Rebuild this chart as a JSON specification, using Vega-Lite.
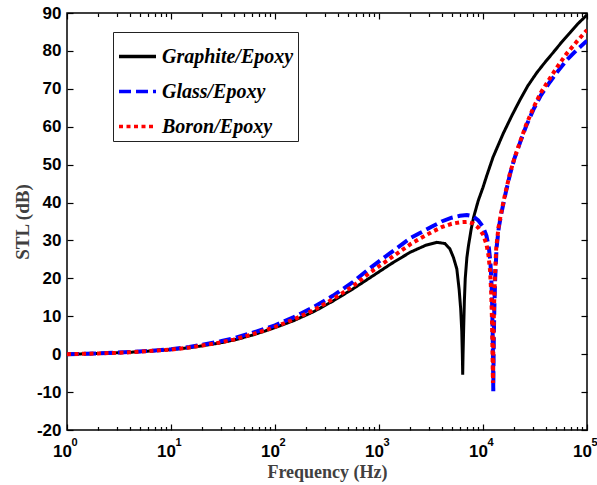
{
  "$schema": "https://vega.github.io/schema/vega-lite/v6.json",
  "width": 520,
  "height": 417,
  "autosize": {"type": "none"},
  "padding": {"left": 67, "top": 13, "right": 10, "bottom": 55},
  "background": "white",
  "config": {
    "view": {"stroke": "black", "strokeWidth": 1.5},
    "axis": {
      "domain": false,
      "grid": false,
      "zindex": 1,
      "ticks": true,
      "tickColor": "black",
      "tickOpacity": 1,
      "tickWidth": 1.2,
      "labelColor": "black",
      "labelFont": "Liberation Sans",
      "labelFontWeight": "bold",
      "labelFontSize": 17,
      "titleFont": "Liberation Serif",
      "titleFontWeight": "bold",
      "titleColor": "#404040",
      "titleFontSize": 18
    }
  },
  "data": {
    "values": [
      {"s": "Graphite/Epoxy", "f": 1, "v": 0},
      {"s": "Graphite/Epoxy", "f": 1.5, "v": 0.1},
      {"s": "Graphite/Epoxy", "f": 2, "v": 0.2},
      {"s": "Graphite/Epoxy", "f": 3, "v": 0.35},
      {"s": "Graphite/Epoxy", "f": 4, "v": 0.5},
      {"s": "Graphite/Epoxy", "f": 6, "v": 0.8},
      {"s": "Graphite/Epoxy", "f": 10, "v": 1.2},
      {"s": "Graphite/Epoxy", "f": 15, "v": 1.7},
      {"s": "Graphite/Epoxy", "f": 20, "v": 2.2},
      {"s": "Graphite/Epoxy", "f": 30, "v": 3.0},
      {"s": "Graphite/Epoxy", "f": 40, "v": 3.7},
      {"s": "Graphite/Epoxy", "f": 60, "v": 5.0},
      {"s": "Graphite/Epoxy", "f": 80, "v": 6.1},
      {"s": "Graphite/Epoxy", "f": 100, "v": 7.0},
      {"s": "Graphite/Epoxy", "f": 150, "v": 8.8},
      {"s": "Graphite/Epoxy", "f": 235, "v": 11.2},
      {"s": "Graphite/Epoxy", "f": 360, "v": 14.0},
      {"s": "Graphite/Epoxy", "f": 560, "v": 17.2},
      {"s": "Graphite/Epoxy", "f": 900, "v": 20.9},
      {"s": "Graphite/Epoxy", "f": 1300, "v": 23.8},
      {"s": "Graphite/Epoxy", "f": 2000, "v": 26.9},
      {"s": "Graphite/Epoxy", "f": 2800, "v": 28.7},
      {"s": "Graphite/Epoxy", "f": 3600, "v": 29.5},
      {"s": "Graphite/Epoxy", "f": 4300, "v": 29.2},
      {"s": "Graphite/Epoxy", "f": 4800, "v": 27.8},
      {"s": "Graphite/Epoxy", "f": 5200, "v": 25.5},
      {"s": "Graphite/Epoxy", "f": 5600, "v": 22.5},
      {"s": "Graphite/Epoxy", "f": 5900, "v": 17},
      {"s": "Graphite/Epoxy", "f": 6100, "v": 12},
      {"s": "Graphite/Epoxy", "f": 6250, "v": 6},
      {"s": "Graphite/Epoxy", "f": 6330, "v": 0},
      {"s": "Graphite/Epoxy", "f": 6380, "v": -5.4},
      {"s": "Graphite/Epoxy", "f": 6430, "v": 0},
      {"s": "Graphite/Epoxy", "f": 6520, "v": 7},
      {"s": "Graphite/Epoxy", "f": 6620, "v": 14},
      {"s": "Graphite/Epoxy", "f": 6750, "v": 20},
      {"s": "Graphite/Epoxy", "f": 7000, "v": 25.5},
      {"s": "Graphite/Epoxy", "f": 7240, "v": 28.5},
      {"s": "Graphite/Epoxy", "f": 7700, "v": 33},
      {"s": "Graphite/Epoxy", "f": 8100, "v": 36},
      {"s": "Graphite/Epoxy", "f": 9000, "v": 40.5},
      {"s": "Graphite/Epoxy", "f": 10000, "v": 44},
      {"s": "Graphite/Epoxy", "f": 10840, "v": 47},
      {"s": "Graphite/Epoxy", "f": 12500, "v": 52},
      {"s": "Graphite/Epoxy", "f": 15700, "v": 58.3},
      {"s": "Graphite/Epoxy", "f": 19000, "v": 63},
      {"s": "Graphite/Epoxy", "f": 22700, "v": 67.1},
      {"s": "Graphite/Epoxy", "f": 27000, "v": 70.8},
      {"s": "Graphite/Epoxy", "f": 32800, "v": 74.2},
      {"s": "Graphite/Epoxy", "f": 40000, "v": 77.2},
      {"s": "Graphite/Epoxy", "f": 47400, "v": 79.6},
      {"s": "Graphite/Epoxy", "f": 57000, "v": 82.3},
      {"s": "Graphite/Epoxy", "f": 68700, "v": 84.8},
      {"s": "Graphite/Epoxy", "f": 82000, "v": 87.2},
      {"s": "Graphite/Epoxy", "f": 100000, "v": 89.5},

      {"s": "Glass/Epoxy", "f": 1, "v": 0},
      {"s": "Glass/Epoxy", "f": 1.5, "v": 0.1},
      {"s": "Glass/Epoxy", "f": 2, "v": 0.2},
      {"s": "Glass/Epoxy", "f": 3, "v": 0.4},
      {"s": "Glass/Epoxy", "f": 4, "v": 0.55},
      {"s": "Glass/Epoxy", "f": 6, "v": 0.85},
      {"s": "Glass/Epoxy", "f": 10, "v": 1.3},
      {"s": "Glass/Epoxy", "f": 15, "v": 1.9},
      {"s": "Glass/Epoxy", "f": 20, "v": 2.5},
      {"s": "Glass/Epoxy", "f": 30, "v": 3.4},
      {"s": "Glass/Epoxy", "f": 40, "v": 4.2},
      {"s": "Glass/Epoxy", "f": 60, "v": 5.6},
      {"s": "Glass/Epoxy", "f": 80, "v": 6.7},
      {"s": "Glass/Epoxy", "f": 100, "v": 7.6},
      {"s": "Glass/Epoxy", "f": 150, "v": 9.7},
      {"s": "Glass/Epoxy", "f": 235, "v": 12.4},
      {"s": "Glass/Epoxy", "f": 360, "v": 15.4},
      {"s": "Glass/Epoxy", "f": 560, "v": 19.0},
      {"s": "Glass/Epoxy", "f": 810, "v": 22.6},
      {"s": "Glass/Epoxy", "f": 1300, "v": 26.8},
      {"s": "Glass/Epoxy", "f": 2000, "v": 30.6},
      {"s": "Glass/Epoxy", "f": 2450, "v": 31.9},
      {"s": "Glass/Epoxy", "f": 3200, "v": 33.6},
      {"s": "Glass/Epoxy", "f": 4000, "v": 35.0},
      {"s": "Glass/Epoxy", "f": 5000, "v": 36.0},
      {"s": "Glass/Epoxy", "f": 6000, "v": 36.5},
      {"s": "Glass/Epoxy", "f": 7000, "v": 36.7},
      {"s": "Glass/Epoxy", "f": 8000, "v": 36.4},
      {"s": "Glass/Epoxy", "f": 9000, "v": 35.3},
      {"s": "Glass/Epoxy", "f": 10000, "v": 33.6},
      {"s": "Glass/Epoxy", "f": 10800, "v": 31.2},
      {"s": "Glass/Epoxy", "f": 11400, "v": 28},
      {"s": "Glass/Epoxy", "f": 11800, "v": 24},
      {"s": "Glass/Epoxy", "f": 12100, "v": 18},
      {"s": "Glass/Epoxy", "f": 12300, "v": 11},
      {"s": "Glass/Epoxy", "f": 12420, "v": 3},
      {"s": "Glass/Epoxy", "f": 12500, "v": -3},
      {"s": "Glass/Epoxy", "f": 12560, "v": -9.8},
      {"s": "Glass/Epoxy", "f": 12620, "v": -3},
      {"s": "Glass/Epoxy", "f": 12700, "v": 4},
      {"s": "Glass/Epoxy", "f": 12850, "v": 12},
      {"s": "Glass/Epoxy", "f": 13100, "v": 20},
      {"s": "Glass/Epoxy", "f": 13500, "v": 28},
      {"s": "Glass/Epoxy", "f": 14200, "v": 33.5},
      {"s": "Glass/Epoxy", "f": 15100, "v": 37.5},
      {"s": "Glass/Epoxy", "f": 16500, "v": 42.5},
      {"s": "Glass/Epoxy", "f": 18200, "v": 47.5},
      {"s": "Glass/Epoxy", "f": 20000, "v": 51.5},
      {"s": "Glass/Epoxy", "f": 22700, "v": 55.8},
      {"s": "Glass/Epoxy", "f": 26000, "v": 60.2},
      {"s": "Glass/Epoxy", "f": 30500, "v": 64.5},
      {"s": "Glass/Epoxy", "f": 36000, "v": 68.3},
      {"s": "Glass/Epoxy", "f": 44000, "v": 71.8},
      {"s": "Glass/Epoxy", "f": 53000, "v": 74.8},
      {"s": "Glass/Epoxy", "f": 63800, "v": 77.6},
      {"s": "Glass/Epoxy", "f": 80000, "v": 80.3},
      {"s": "Glass/Epoxy", "f": 100000, "v": 82.7},

      {"s": "Boron/Epoxy", "f": 1, "v": 0},
      {"s": "Boron/Epoxy", "f": 1.5, "v": 0.1},
      {"s": "Boron/Epoxy", "f": 2, "v": 0.2},
      {"s": "Boron/Epoxy", "f": 3, "v": 0.35},
      {"s": "Boron/Epoxy", "f": 4, "v": 0.5},
      {"s": "Boron/Epoxy", "f": 6, "v": 0.8},
      {"s": "Boron/Epoxy", "f": 10, "v": 1.2},
      {"s": "Boron/Epoxy", "f": 15, "v": 1.75},
      {"s": "Boron/Epoxy", "f": 20, "v": 2.3},
      {"s": "Boron/Epoxy", "f": 30, "v": 3.1},
      {"s": "Boron/Epoxy", "f": 40, "v": 3.85},
      {"s": "Boron/Epoxy", "f": 60, "v": 5.2},
      {"s": "Boron/Epoxy", "f": 80, "v": 6.3},
      {"s": "Boron/Epoxy", "f": 100, "v": 7.2},
      {"s": "Boron/Epoxy", "f": 150, "v": 9.1},
      {"s": "Boron/Epoxy", "f": 235, "v": 11.6},
      {"s": "Boron/Epoxy", "f": 360, "v": 14.5},
      {"s": "Boron/Epoxy", "f": 560, "v": 17.9},
      {"s": "Boron/Epoxy", "f": 810, "v": 21.4},
      {"s": "Boron/Epoxy", "f": 1300, "v": 25.4},
      {"s": "Boron/Epoxy", "f": 2000, "v": 29.0},
      {"s": "Boron/Epoxy", "f": 2450, "v": 30.4},
      {"s": "Boron/Epoxy", "f": 3200, "v": 32.2},
      {"s": "Boron/Epoxy", "f": 4000, "v": 33.5},
      {"s": "Boron/Epoxy", "f": 5000, "v": 34.4},
      {"s": "Boron/Epoxy", "f": 6000, "v": 34.8},
      {"s": "Boron/Epoxy", "f": 7000, "v": 34.9},
      {"s": "Boron/Epoxy", "f": 8000, "v": 34.5},
      {"s": "Boron/Epoxy", "f": 9000, "v": 33.4},
      {"s": "Boron/Epoxy", "f": 10000, "v": 31.6},
      {"s": "Boron/Epoxy", "f": 10800, "v": 29},
      {"s": "Boron/Epoxy", "f": 11300, "v": 26},
      {"s": "Boron/Epoxy", "f": 11700, "v": 22},
      {"s": "Boron/Epoxy", "f": 12000, "v": 16},
      {"s": "Boron/Epoxy", "f": 12200, "v": 9},
      {"s": "Boron/Epoxy", "f": 12320, "v": 2},
      {"s": "Boron/Epoxy", "f": 12400, "v": -3},
      {"s": "Boron/Epoxy", "f": 12460, "v": -7.6},
      {"s": "Boron/Epoxy", "f": 12520, "v": -3},
      {"s": "Boron/Epoxy", "f": 12600, "v": 4},
      {"s": "Boron/Epoxy", "f": 12750, "v": 12},
      {"s": "Boron/Epoxy", "f": 13000, "v": 20},
      {"s": "Boron/Epoxy", "f": 13400, "v": 28},
      {"s": "Boron/Epoxy", "f": 14100, "v": 33.5},
      {"s": "Boron/Epoxy", "f": 15000, "v": 37.5},
      {"s": "Boron/Epoxy", "f": 16400, "v": 42.5},
      {"s": "Boron/Epoxy", "f": 18100, "v": 47.5},
      {"s": "Boron/Epoxy", "f": 20000, "v": 51.6},
      {"s": "Boron/Epoxy", "f": 22700, "v": 56},
      {"s": "Boron/Epoxy", "f": 26000, "v": 60.5},
      {"s": "Boron/Epoxy", "f": 30500, "v": 65},
      {"s": "Boron/Epoxy", "f": 36000, "v": 69},
      {"s": "Boron/Epoxy", "f": 44000, "v": 72.8},
      {"s": "Boron/Epoxy", "f": 53000, "v": 76.2},
      {"s": "Boron/Epoxy", "f": 63800, "v": 79.3},
      {"s": "Boron/Epoxy", "f": 80000, "v": 82.5},
      {"s": "Boron/Epoxy", "f": 100000, "v": 85.5}
    ]
  },
  "encoding": {
    "x": {"field": "f", "type": "quantitative", "scale": {"type": "log", "domain": [1, 100000], "nice": false}},
    "y": {"field": "v", "type": "quantitative", "scale": {"domain": [-20, 90], "nice": false, "zero": false}}
  },
  "layer": [
    {
      "transform": [{"filter": "datum.s === 'Graphite/Epoxy'"}],
      "mark": {"type": "line", "strokeWidth": 3, "clip": true},
      "encoding": {
        "x": {"field": "f", "type": "quantitative",
          "axis": {
            "orient": "bottom",
            "title": "Frequency (Hz)",
            "values": [1, 10, 100, 1000, 10000, 100000],
            "labelExpr": "'10'",
            "offset": -6,
            "tickSize": 6,
            "labelPadding": 13,
            "labelOffset": -5,
            "labelFlush": false,
            "labelOverlap": false,
            "titlePadding": 4
          }
        },
        "y": {"field": "v", "type": "quantitative",
          "axis": {
            "orient": "left",
            "title": "STL (dB)",
            "titleFontSize": 19,
            "values": [-20, -10, 0, 10, 20, 30, 40, 50, 60, 70, 80, 90],
            "labelExpr": "replace(datum.label, '−', '-')",
            "offset": -6,
            "tickSize": 6,
            "labelPadding": 6,
            "titlePadding": 4
          }
        },
        "color": {
          "field": "s", "type": "nominal",
          "scale": {"domain": ["Graphite/Epoxy", "Glass/Epoxy", "Boron/Epoxy"], "range": ["#000000", "#0000ff", "#ff0000"]},
          "legend": {
            "orient": "none",
            "legendX": 46,
            "legendY": 19,
            "title": null,
            "strokeColor": "#222222",
            "fillColor": "white",
            "padding": 4,
            "symbolType": "stroke",
            "symbolSize": 1369,
            "symbolStrokeWidth": 3.5,
            "labelFont": "Liberation Serif",
            "labelFontStyle": "italic",
            "labelFontWeight": "bold",
            "labelFontSize": 20,
            "labelColor": "black",
            "labelOffset": 4,
            "rowPadding": 4
          }
        },
        "strokeDash": {
          "field": "s", "type": "nominal",
          "scale": {"domain": ["Graphite/Epoxy", "Glass/Epoxy", "Boron/Epoxy"], "range": [[1, 0], [12, 5], [4, 3.5]]}
        }
      }
    },
    {
      "transform": [{"filter": "datum.s === 'Glass/Epoxy'"}],
      "mark": {"type": "line", "strokeWidth": 4, "clip": true},
      "encoding": {
        "x": {"field": "f", "type": "quantitative", "axis": null},
        "y": {"field": "v", "type": "quantitative", "axis": null},
        "color": {"field": "s", "type": "nominal"},
        "strokeDash": {"field": "s", "type": "nominal"}
      }
    },
    {
      "transform": [{"filter": "datum.s === 'Boron/Epoxy'"}],
      "mark": {"type": "line", "strokeWidth": 4, "clip": true},
      "encoding": {
        "x": {"field": "f", "type": "quantitative", "axis": null},
        "y": {"field": "v", "type": "quantitative", "axis": null},
        "color": {"field": "s", "type": "nominal"},
        "strokeDash": {"field": "s", "type": "nominal"}
      }
    },
    {
      "transform": [{"filter": "datum.f === 1"}],
      "mark": {"type": "point", "opacity": 0},
      "encoding": {
        "x": {"field": "f", "type": "quantitative",
          "axis": {
            "orient": "bottom",
            "title": null,
            "ticks": false,
            "values": [1, 10, 100, 1000, 10000, 100000],
            "labelExpr": "'' + round(log(datum.value) / LN10)",
            "labelFontSize": 11,
            "labelPadding": 6,
            "labelOffset": 7,
            "labelFlush": false,
            "labelOverlap": false
          }
        },
        "y": {"field": "v", "type": "quantitative",
          "axis": {
            "orient": "right",
            "title": null,
            "labels": false,
            "values": [-20, -10, 0, 10, 20, 30, 40, 50, 60, 70, 80, 90],
            "offset": -6,
            "tickSize": 6
          }
        }
      }
    },
    {
      "transform": [{"filter": "datum.f === 1"}],
      "mark": {"type": "point", "opacity": 0},
      "encoding": {
        "x": {"field": "f", "type": "quantitative",
          "axis": {
            "orient": "bottom",
            "title": null,
            "labels": false,
            "values": [2,3,4,5,6,7,8,9,20,30,40,50,60,70,80,90,200,300,400,500,600,700,800,900,2000,3000,4000,5000,6000,7000,8000,9000,20000,30000,40000,50000,60000,70000,80000,90000],
            "offset": -3.5,
            "tickSize": 3.5
          }
        },
        "y": {"field": "v", "type": "quantitative", "axis": null}
      }
    },
    {
      "transform": [{"filter": "datum.f === 1"}],
      "mark": {"type": "point", "opacity": 0},
      "encoding": {
        "x": {"field": "f", "type": "quantitative",
          "axis": {
            "orient": "top",
            "title": null,
            "labels": false,
            "values": [1, 10, 100, 1000, 10000, 100000],
            "offset": -6,
            "tickSize": 6
          }
        },
        "y": {"field": "v", "type": "quantitative", "axis": null}
      }
    },
    {
      "transform": [{"filter": "datum.f === 1"}],
      "mark": {"type": "point", "opacity": 0},
      "encoding": {
        "x": {"field": "f", "type": "quantitative",
          "axis": {
            "orient": "top",
            "title": null,
            "labels": false,
            "values": [2,3,4,5,6,7,8,9,20,30,40,50,60,70,80,90,200,300,400,500,600,700,800,900,2000,3000,4000,5000,6000,7000,8000,9000,20000,30000,40000,50000,60000,70000,80000,90000],
            "offset": -3.5,
            "tickSize": 3.5
          }
        },
        "y": {"field": "v", "type": "quantitative", "axis": null}
      }
    }
  ],
  "resolve": {"axis": {"x": "independent", "y": "independent"}}
}
